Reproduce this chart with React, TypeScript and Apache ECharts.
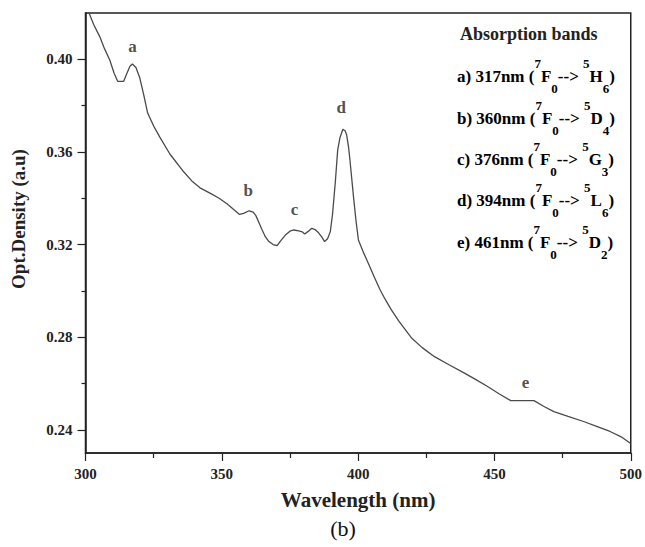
import React, { useEffect, useRef } from "react";
import * as echarts from "echarts";

const wavelength = [
  300, 301.3, 303, 305.3, 307, 308.9, 310.5, 311.8, 314.0, 315.2, 316.3, 317.2, 318.5, 319.9, 321.3, 322.8,
  325, 327.2, 331, 335.6, 339, 342, 346, 349, 352, 355, 356.5, 358, 360, 361.5, 362.5, 363.8, 364.8, 366,
  367.3, 368.8, 370.3, 371.5, 373.3, 375, 376.4, 378.2, 379.5, 380.4, 381.8, 383.0, 384.2, 385.5, 386.7,
  387.7, 388.8, 389.8, 390.6, 391.6, 392.5, 393.3, 394.4, 395.3, 395.8, 396.5, 397.0, 397.7, 398.3, 399.2,
  400.1, 402, 404, 406, 408, 410, 412.2, 415, 419.5, 423.5, 428.0, 433.5, 439.0, 443.2,
  447.5, 451.8, 456.0, 464.5, 468, 471.8, 477, 482.7, 487.5, 492.4, 496.5, 499.7, 500,
];
const density = [
  0.4235, 0.42, 0.415, 0.4096, 0.4045, 0.3997, 0.394, 0.3905, 0.3905, 0.394, 0.397, 0.398, 0.3965, 0.392,
  0.385, 0.3768, 0.3712, 0.3665, 0.359, 0.352, 0.3475, 0.3445, 0.342, 0.34, 0.3375, 0.3345, 0.333, 0.3335,
  0.3346, 0.334, 0.3325, 0.329, 0.3263, 0.3233, 0.3213, 0.32, 0.3195, 0.3215, 0.3241, 0.3258, 0.3263,
  0.3259, 0.3255, 0.3246, 0.3258, 0.327, 0.3265, 0.3251, 0.3232, 0.3213, 0.3225, 0.3256, 0.333, 0.3465,
  0.3608, 0.366, 0.3698, 0.369, 0.3673, 0.362, 0.3565, 0.348, 0.3407, 0.3305,
  0.322, 0.3165, 0.3112, 0.3058, 0.3006, 0.2962, 0.2918, 0.2868, 0.2798, 0.2755, 0.2716, 0.268, 0.2645, 0.2617,
  0.2587, 0.2555, 0.2526, 0.2526, 0.2502, 0.2479, 0.2458, 0.2436, 0.2415, 0.2393, 0.237, 0.2343, 0.234,
];

const peakNames = ["a", "b", "c", "d", "e"];
const peakX = [317.2, 359.7, 376.7, 393.8, 461.4];
const peakY = [0.4054, 0.3433, 0.335, 0.3792, 0.2604];

const bandNm = ["317", "360", "376", "394", "461"];
const bandTerm = ["H", "D", "G", "L", "D"];
const bandSub = ["6", "4", "3", "6", "2"];

const yMajorTicks = [0.24, 0.28, 0.32, 0.36, 0.4];
const yMinorTicks = [0.26, 0.3, 0.34, 0.38];

const SERIF = "'Liberation Serif', 'Times New Roman', serif";

export default function App() {
  const ref = useRef<HTMLDivElement>(null);
  useEffect(() => {
    if (!ref.current) return;
    const chart = echarts.init(ref.current, undefined, { renderer: "svg" });
    const lineData = wavelength.map((w, i) => [w, density[i]]);
    const peakData = peakNames.map((n, i) => ({ name: n, value: [peakX[i], peakY[i]] }));

    const rich = {
      n: { fontSize: 17, fontWeight: "bold", fontFamily: SERIF, color: "#222", lineHeight: 38, verticalAlign: "middle" },
      sup: { fontSize: 13, fontWeight: "bold", fontFamily: SERIF, color: "#222", lineHeight: 15, verticalAlign: "top" },
      sub: { fontSize: 13, fontWeight: "bold", fontFamily: SERIF, color: "#222", lineHeight: 15, verticalAlign: "bottom" },
    };
    const rowY = [76, 118, 159, 200, 242];
    const legendRows = peakNames.map((l, i) => ({
      type: "text",
      x: 457,
      y: rowY[i],
      style: {
        text: `{n|${l}) ${bandNm[i]}nm (}{sup|7}{n|F}{sub|0}{n|--> }{sup|5}{n|${bandTerm[i]}}{sub|${bandSub[i]}}{n|)}`,
        rich,
        verticalAlign: "middle",
        align: "left",
      },
    }));

    chart.setOption({
      animation: false,
      backgroundColor: "#fff",
      grid: {
        left: 85.5,
        right: 11,
        top: 13,
        bottom: 94,
        show: true,
        borderColor: "#222",
        borderWidth: 1.5,
        backgroundColor: "transparent",
      },
      xAxis: {
        type: "value",
        min: 300,
        max: 500,
        interval: 50,
        name: "Wavelength (nm)",
        nameLocation: "middle",
        nameGap: 36,
        nameTextStyle: { fontFamily: SERIF, fontWeight: "bold", fontSize: 21, color: "#222" },
        axisLine: { show: true, onZero: false, lineStyle: { color: "#222", width: 1.5 } },
        axisTick: { show: true, length: 8, lineStyle: { color: "#222", width: 1.2 } },
        minorTick: { show: true, splitNumber: 2, length: 5, lineStyle: { color: "#222", width: 1.2 } },
        axisLabel: { margin: 13, fontFamily: SERIF, fontWeight: "bold", fontSize: 15, color: "#222" },
        splitLine: { show: false },
        minorSplitLine: { show: false },
      },
      yAxis: [
        {
          type: "value",
          min: 0.23,
          max: 0.42,
          axisLine: { show: true, onZero: false, lineStyle: { color: "#222", width: 1.5 } },
          axisTick: { show: true, length: 8, customValues: yMajorTicks, lineStyle: { color: "#222", width: 1.2 } },
          axisLabel: {
            margin: 13,
            customValues: yMajorTicks,
            formatter: (v: number) => v.toFixed(2),
            fontFamily: SERIF,
            fontWeight: "bold",
            fontSize: 15,
            color: "#222",
          },
          splitLine: { show: false },
        },
        {
          type: "value",
          min: 0.23,
          max: 0.42,
          position: "left",
          axisLine: { show: false },
          axisTick: { show: true, length: 4, customValues: yMinorTicks, lineStyle: { color: "#222", width: 1.2 } },
          axisLabel: { show: false },
          splitLine: { show: false },
        },
      ],
      series: [
        {
          type: "line",
          data: lineData,
          showSymbol: false,
          symbol: "none",
          clip: true,
          lineStyle: { color: "#4a4a4a", width: 1.3 },
          silent: true,
        },
        {
          type: "scatter",
          data: peakData,
          symbolSize: 0,
          silent: true,
          label: {
            show: true,
            position: "inside",
            formatter: "{b}",
            fontFamily: SERIF,
            fontWeight: "bold",
            fontSize: 17,
            color: "#222",
          },
        },
      ],
      graphic: [
        {
          type: "text",
          x: 18,
          y: 219,
          rotation: Math.PI / 2,
          style: {
            text: "Opt.Density (a.u)",
            font: `bold 19px ${SERIF}`,
            fill: "#222",
            align: "center",
            verticalAlign: "middle",
          },
        },
        {
          type: "text",
          x: 460,
          y: 34,
          style: {
            text: "Absorption bands",
            font: `bold 18px ${SERIF}`,
            fill: "#222",
            align: "left",
            verticalAlign: "middle",
          },
        },
        ...legendRows,
        {
          type: "text",
          x: 343,
          y: 528,
          style: {
            text: "(b)",
            font: `22px ${SERIF}`,
            fill: "#111",
            align: "center",
            verticalAlign: "middle",
          },
        },
      ],
    });
    return () => chart.dispose();
  }, []);
  return <div ref={ref} style={{ position: "fixed", left: 0, top: 0, width: 645, height: 547 }} />;
}
